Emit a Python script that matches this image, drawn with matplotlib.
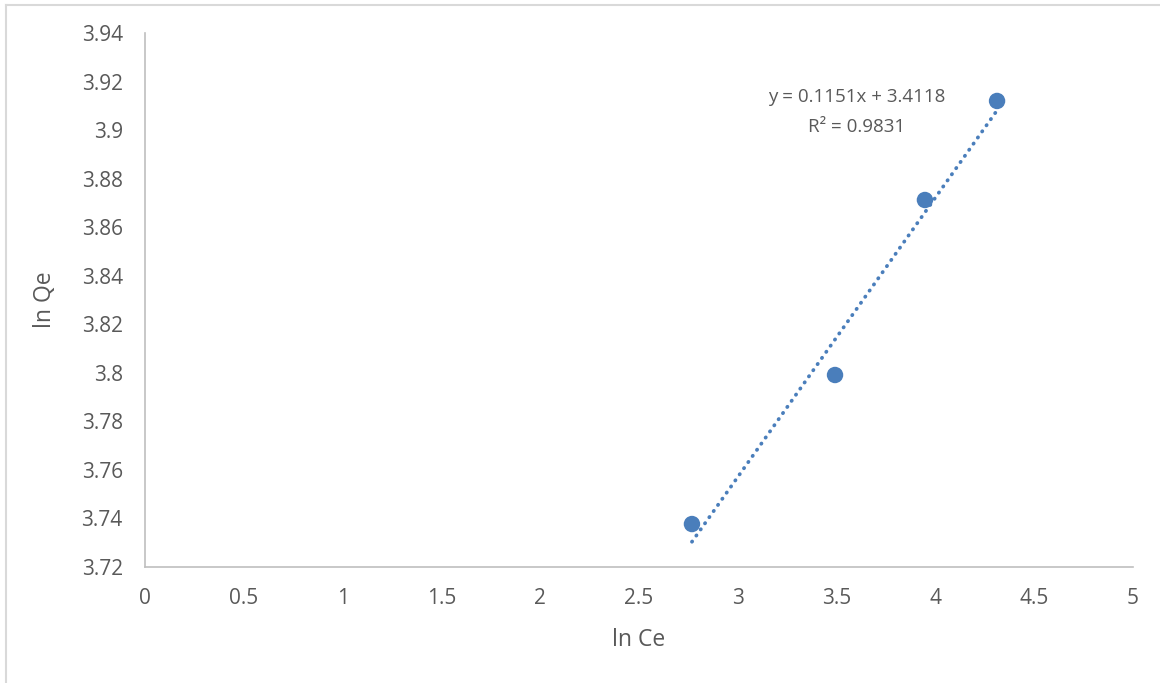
import matplotlib
matplotlib.use("Agg")
import matplotlib.pyplot as plt
from matplotlib.lines import Line2D
import numpy as np

ln_ce = [2.768, 3.492, 3.947, 4.312]
ln_qe = [3.7377, 3.7991, 3.8712, 3.9120]
slope = 0.1151
intercept = 3.4118
r2 = 0.9831
xticks = [0, 0.5, 1, 1.5, 2, 2.5, 3, 3.5, 4, 4.5, 5]
yticks = [3.72, 3.74, 3.76, 3.78, 3.80, 3.82, 3.84, 3.86, 3.88, 3.90, 3.92, 3.94]
ytick_labels = ["3.72", "3.74", "3.76", "3.78", "3.8", "3.82", "3.84", "3.86",
                "3.88", "3.9", "3.92", "3.94"]
xtick_labels = ["0", "0.5", "1", "1.5", "2", "2.5", "3", "3.5", "4", "4.5", "5"]

plt.rcParams['font.family'] = ['Open Sans', 'DejaVu Sans']

W, H = 1160, 683
fig = plt.figure(figsize=(W / 100, H / 100), dpi=100)
ax = fig.add_axes([145 / W, 1 - 567 / H, (1133 - 145) / W, (567 - 33) / H])

blue = "#4A7EBB"
grey = "#595959"
# trendline
xt = np.array([min(ln_ce), max(ln_ce)])
ax.plot(xt, slope * xt + intercept, linestyle=(0, (0.1, 1.9)), dash_capstyle='round',
        color=blue, linewidth=2.7, zorder=2)
ax.scatter(ln_ce, ln_qe, s=140, color=blue, zorder=3, edgecolors='none')

ax.set_xlim(0, 5)
ax.set_ylim(3.72, 3.94)
ax.set_xticks(xticks)
ax.set_xticklabels(xtick_labels)
ax.set_yticks(yticks)
ax.set_yticklabels(ytick_labels)
ax.tick_params(axis='both', length=0, labelsize=15, colors=grey)
ax.tick_params(axis='x', pad=15)
ax.tick_params(axis='y', pad=16)
for s in ["top", "right"]:
    ax.spines[s].set_visible(False)
for s in ["left", "bottom"]:
    ax.spines[s].set_color("#BFBFBF")
    ax.spines[s].set_linewidth(1.2)

ax.set_xlabel("ln Ce", fontsize=16.5, color=grey, labelpad=14)
ax.set_ylabel("ln Qe", fontsize=16.5, color=grey, labelpad=18)

ax.text(3.603, 3.9136, "y = 0.1151x + 3.4118", fontsize=13.5, color=grey,
        ha="center", va="center")
ax.text(3.603, 3.9013, "R² = 0.9831", fontsize=13.5, color=grey,
        ha="center", va="center")

# chart border (top and left visible)
fig.add_artist(Line2D([6 / W, 1], [1 - 5 / H, 1 - 5 / H], transform=fig.transFigure,
                      color="#D9D9D9", linewidth=1.5))
fig.add_artist(Line2D([6 / W, 6 / W], [0, 1 - 5 / H], transform=fig.transFigure,
                      color="#D9D9D9", linewidth=1.5))

fig.savefig("out.png", dpi=100)
